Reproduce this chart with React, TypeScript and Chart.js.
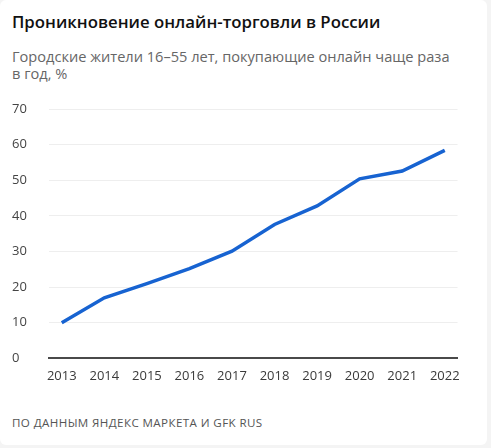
import React, { useEffect, useRef } from "react";
import { Chart, registerables } from "chart.js";

Chart.register(...registerables);

const years = [2013, 2014, 2015, 2016, 2017, 2018, 2019, 2020, 2021, 2022];
const shares = [10.0, 17.0, 21.0, 25.2, 30.1, 37.6, 42.8, 50.4, 52.6, 58.4];
const yTicks = [0, 10, 20, 30, 40, 50, 60, 70];

const title = "Проникновение онлайн-торговли в России";
const subtitleLine1 = "Городские жители 16–55 лет, покупающие онлайн чаще раза";
const subtitleLine2 = "в год, %";
const source = "ПО ДАННЫМ ЯНДЕКС МАРКЕТА И GFK RUS";

const FONT = "'Open Sans', 'Noto Sans', sans-serif";

export default function App() {
  const canvasRef = useRef<HTMLCanvasElement | null>(null);

  useEffect(() => {
    document.body.style.margin = "0";
    const canvas = canvasRef.current;
    if (!canvas) return;
    const chart = new Chart(canvas, {
      type: "line",
      data: {
        datasets: [
          {
            data: years.map((y, i) => ({ x: y, y: shares[i] })),
            borderColor: "#1763d1",
            borderWidth: 3.5,
            pointRadius: 0,
            tension: 0,
            fill: false,
          },
        ],
      },
      options: {
        animation: false,
        responsive: false,
        maintainAspectRatio: false,
        layout: { padding: { top: 9, right: 12, bottom: 6, left: 0 } },
        plugins: { legend: { display: false }, tooltip: { enabled: false } },
        scales: {
          x: {
            type: "linear",
            min: years[0] - 0.3,
            max: years[years.length - 1] + 0.3,
            afterBuildTicks: (s: any) => {
              s.ticks = years.map((v) => ({ value: v }));
            },
            grid: { display: false, drawTicks: false },
            border: { display: true, color: "#4a4a4a", width: 2 },
            ticks: {
              padding: 10,
              color: "#3a3a3a",
              font: { family: FONT, size: 13 },
              autoSkip: false,
              maxRotation: 0,
              callback: (v: any) => String(v),
            },
          },
          y: {
            min: 0,
            max: 70,
            afterBuildTicks: (s: any) => {
              s.ticks = yTicks.map((v) => ({ value: v }));
            },
            afterFit: (s: any) => {
              s.width = 37;
            },
            grid: { color: "#eeeeee", lineWidth: 1, drawTicks: false },
            border: { display: false },
            ticks: {
              crossAlign: "far",
              color: "#444444",
              font: { family: FONT, size: 13 },
              padding: 0,
            },
          },
        },
      },
    });
    return () => chart.destroy();
  }, []);

  return (
    <div
      style={{
        position: "relative",
        width: 491,
        height: 448,
        background: "#f4f4f4",
        overflow: "hidden",
        fontFamily: FONT,
      }}
    >
      <div
        style={{
          position: "absolute",
          left: 0,
          top: 0,
          width: 487,
          height: 445,
          background: "#ffffff",
          borderRadius: 6,
        }}
      />
      <div
        style={{
          position: "absolute",
          left: 12,
          top: 10,
          fontSize: 16.8,
          fontWeight: 600,
          color: "#111",
          whiteSpace: "nowrap",
          lineHeight: "24px",
        }}
      >
        {title}
      </div>
      <div
        style={{
          position: "absolute",
          left: 12,
          top: 48,
          fontSize: 14.6,
          color: "#666",
          whiteSpace: "nowrap",
          lineHeight: "17px",
        }}
      >
        <div>{subtitleLine1}</div>
        <div>{subtitleLine2}</div>
      </div>
      <canvas
        ref={canvasRef}
        width={458}
        height={300}
        style={{ position: "absolute", left: 12, top: 100, width: 458, height: 300 }}
      />
      <div
        style={{
          position: "absolute",
          left: 12,
          top: 415,
          fontSize: 11.6,
          color: "#555",
          whiteSpace: "nowrap",
          letterSpacing: 0.4,
          lineHeight: "16px",
        }}
      >
        {source}
      </div>
    </div>
  );
}
